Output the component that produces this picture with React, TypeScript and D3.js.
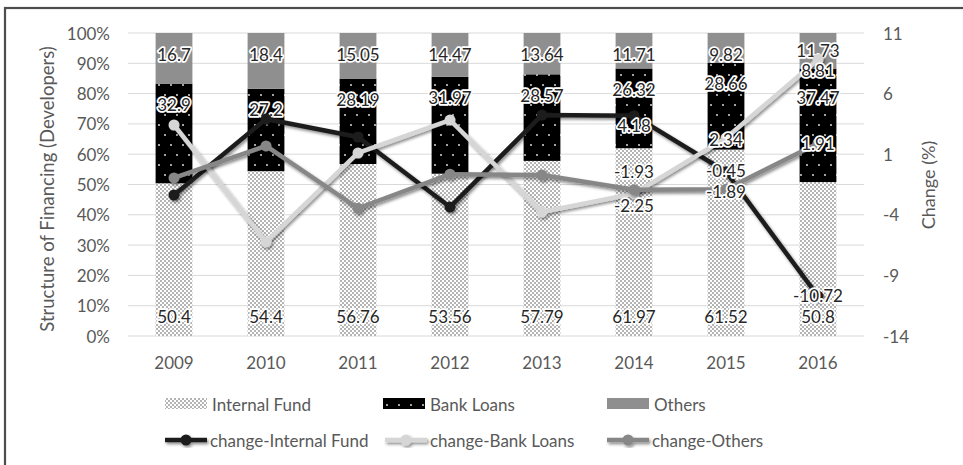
import React from "react";
import * as d3 from "d3";

const years = ["2009", "2010", "2011", "2012", "2013", "2014", "2015", "2016"];
const internalFund = [50.4, 54.4, 56.76, 53.56, 57.79, 61.97, 61.52, 50.8];
const bankLoans = [32.9, 27.2, 28.19, 31.97, 28.57, 26.32, 28.66, 37.47];
const others = [16.7, 18.4, 15.05, 14.47, 13.64, 11.71, 9.82, 11.73];

const changeInternal = [-2.37, 3.9, 2.42, -3.36, 4.23, 4.18, -0.45, -10.72];
const changeBank = [3.41, -6.24, 1.1, 3.82, -3.77, -2.25, 2.34, 8.81];
const changeOthers = [-0.96, 1.68, -3.46, -0.65, -0.72, -1.93, -1.89, 1.91];
const labeledYears = ["2014", "2015", "2016"];

const leftTicks = [0, 10, 20, 30, 40, 50, 60, 70, 80, 90, 100];
const rightTicks = [-14, -9, -4, 1, 6, 11];

const leftTitle = "Structure of Financing (Developers)";
const rightTitle = "Change (%)";

const FONT = "Lato, 'Open Sans', sans-serif";
const AXIS_COLOR = "#595959";
const LABEL_COLOR = "#262626";

// label nudges (style only)
const lineLabelDy: Record<string, number> = {
  "internal-2014": 10,
  "bank-2014": 12,
  "others-2014": -18,
  "bank-2016": 11,
  "bank-2015": 2,
  "internal-2015": -1,
  "others-2015": 2,
  "internal-2016": -1,
};
const barLabelDy: Record<string, number> = {
  "others-2016": -4,
  "bank-2016": 8,
};

export default function App() {
  const W = 963;
  const H = 465;
  const plotL = 128;
  const plotR = 864;
  const plotT = 33;
  const plotB = 336;

  const x = d3
    .scaleBand<string>()
    .domain(years)
    .range([plotL, plotR])
    .paddingInner(0.6)
    .paddingOuter(0.3);
  const yL = d3.scaleLinear().domain([0, 100]).range([plotB, plotT]);
  const yR = d3.scaleLinear().domain([-14, 11]).range([plotB, plotT]);
  const cx = (yr: string) => (x(yr) as number) + x.bandwidth() / 2;

  const stackData = years.map((yr, i) => ({
    year: yr,
    internal: internalFund[i],
    bank: bankLoans[i],
    others: others[i],
  }));
  const stack = d3.stack<any>().keys(["internal", "bank", "others"]);
  const series = stack(stackData);
  const fills: Record<string, string> = {
    internal: "url(#patInternal)",
    bank: "url(#patBank)",
    others: "#8f8f8f",
  };

  const lineGen = d3
    .line<number>()
    .x((_, i) => cx(years[i]))
    .y((v) => yR(v));

  const lines = [
    { key: "internal", values: changeInternal, color: "#1e1e1e" },
    { key: "bank", values: changeBank, color: "#d6d6d6" },
    { key: "others", values: changeOthers, color: "#878787" },
  ];

  const haloText = (props: any, content: string) => (
    <text
      {...props}
      fontFamily={FONT}
      textAnchor="middle"
      dominantBaseline="central"
      stroke="#ffffff"
      strokeWidth={3.5}
      strokeLinejoin="round"
      paintOrder="stroke"
      fill={LABEL_COLOR}
    >
      {content}
    </text>
  );

  const fs = 17;

  return (
    <svg
      width={W}
      height={H}
      style={{ position: "absolute", left: 0, top: 0, background: "#fff" }}
    >
      <defs>
        <pattern id="patInternal" width="4" height="4" patternUnits="userSpaceOnUse">
          <rect width="4" height="4" fill="#ffffff" />
          <circle cx="1" cy="1" r="0.8" fill="#555" />
          <circle cx="3" cy="3" r="0.8" fill="#555" />
        </pattern>
        <pattern id="patBank" width="12" height="20" patternUnits="userSpaceOnUse">
          <rect width="12" height="20" fill="#000" />
          <circle cx="3" cy="5" r="1" fill="#d9d9d9" />
          <circle cx="9" cy="15" r="1" fill="#d9d9d9" />
        </pattern>
        <filter id="shadow" x="-10%" y="-10%" width="120%" height="130%">
          <feDropShadow dx="1.5" dy="2" stdDeviation="1.6" floodColor="#000" floodOpacity="0.45" />
        </filter>
      </defs>

      <rect x={0} y={0} width={W} height={H} fill="#fff" />
      <rect x={5} y={8} width={1100} height={600} fill="none" stroke="#4d4d4d" strokeWidth={2.2} />

      {/* gridlines */}
      {leftTicks.map((t) => (
        <line
          key={"g" + t}
          x1={plotL}
          x2={plotR}
          y1={yL(t)}
          y2={yL(t)}
          stroke="#d9d9d9"
          strokeWidth={1}
        />
      ))}

      {/* left axis labels */}
      {leftTicks.map((t) => (
        <text
          key={"l" + t}
          x={110}
          y={yL(t)}
          textAnchor="end"
          dominantBaseline="central"
          fontFamily={FONT}
          fontSize={fs}
          fill={AXIS_COLOR}
        >
          {t + "%"}
        </text>
      ))}

      {/* right axis labels */}
      {rightTicks.map((t) => (
        <text
          key={"r" + t}
          x={883}
          y={yR(t)}
          textAnchor="start"
          dominantBaseline="central"
          fontFamily={FONT}
          fontSize={fs}
          fill={AXIS_COLOR}
        >
          {t}
        </text>
      ))}

      {/* x labels */}
      {years.map((yr) => (
        <text
          key={"x" + yr}
          x={cx(yr)}
          y={362}
          textAnchor="middle"
          dominantBaseline="central"
          fontFamily={FONT}
          fontSize={fs}
          fill={AXIS_COLOR}
        >
          {yr}
        </text>
      ))}

      {/* axis titles */}
      <text
        transform={`translate(47, 189) rotate(-90)`}
        textAnchor="middle"
        dominantBaseline="central"
        fontFamily={FONT}
        fontSize={18.5}
        fill={AXIS_COLOR}
      >
        {leftTitle}
      </text>
      <text
        transform={`translate(928, 185) rotate(-90)`}
        textAnchor="middle"
        dominantBaseline="central"
        fontFamily={FONT}
        fontSize={18}
        fill={AXIS_COLOR}
      >
        {rightTitle}
      </text>

      {/* bars */}
      {series.map((s) => (
        <g key={s.key}>
          {s.map((d) => (
            <rect
              key={s.key + d.data.year}
              x={x(d.data.year)}
              width={x.bandwidth()}
              y={yL(d[1])}
              height={yL(d[0]) - yL(d[1])}
              fill={fills[s.key]}
            />
          ))}
        </g>
      ))}

      {/* bar labels */}
      {series.map((s) =>
        s.map((d) => {
          const yr = d.data.year;
          const val = d.data[s.key];
          const dy = barLabelDy[s.key + "-" + yr] || 0;
          const ly = (s.key === "internal" ? yL(d[0]) - 20 : yL(d[1]) + 21) + dy;
          return (
            <g key={"bl" + s.key + yr}>
              {haloText({ x: cx(yr), y: ly, fontSize: fs }, String(val))}
            </g>
          );
        })
      )}

      {/* lines */}
      {lines.map((ln) => (
        <g key={ln.key} filter="url(#shadow)">
          <path
            d={lineGen(ln.values) as string}
            fill="none"
            stroke={ln.color}
            strokeWidth={4.5}
            strokeLinejoin="round"
            strokeLinecap="round"
          />
          {ln.values.map((v, i) => (
            <circle key={i} cx={cx(years[i])} cy={yR(v)} r={5.5} fill={ln.color} />
          ))}
        </g>
      ))}

      {/* line labels */}
      {lines.map((ln) =>
        ln.values.map((v, i) => {
          const yr = years[i];
          if (!labeledYears.includes(yr)) return null;
          const dy = lineLabelDy[ln.key + "-" + yr] || 0;
          return (
            <g key={"ll" + ln.key + yr}>
              {haloText({ x: cx(yr), y: yR(v) + dy, fontSize: fs }, String(v))}
            </g>
          );
        })
      )}

      {/* legend */}
      {[
        { label: "Internal Fund", fill: "url(#patInternal)", x0: 165 },
        { label: "Bank Loans", fill: "url(#patBank)", x0: 383 },
        { label: "Others", fill: "#8f8f8f", x0: 607 },
      ].map((it) => (
        <g key={"lg" + it.label}>
          <rect x={it.x0} y={398} width={42} height={11} fill={it.fill} />
          <text
            x={it.x0 + 47}
            y={404}
            dominantBaseline="central"
            fontFamily={FONT}
            fontSize={fs}
            fill={AXIS_COLOR}
          >
            {it.label}
          </text>
        </g>
      ))}
      {[
        { label: "change-Internal Fund", color: "#1e1e1e", x0: 165 },
        { label: "change-Bank Loans", color: "#d6d6d6", x0: 385 },
        { label: "change-Others", color: "#878787", x0: 607 },
      ].map((it) => (
        <g key={"lg2" + it.label}>
          <g filter="url(#shadow)">
            <line x1={it.x0} x2={it.x0 + 42} y1={440} y2={440} stroke={it.color} strokeWidth={4.5} />
            <circle cx={it.x0 + 21} cy={440} r={5.5} fill={it.color} />
          </g>
          <text
            x={it.x0 + 45}
            y={440}
            dominantBaseline="central"
            fontFamily={FONT}
            fontSize={fs}
            fill={AXIS_COLOR}
          >
            {it.label}
          </text>
        </g>
      ))}
    </svg>
  );
}
